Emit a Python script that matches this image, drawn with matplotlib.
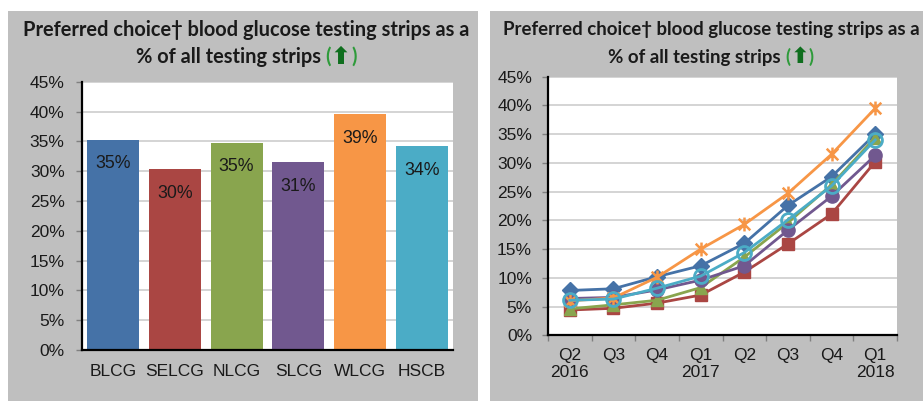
import matplotlib
matplotlib.use("Agg")
import matplotlib.pyplot as plt
from matplotlib.patches import Rectangle
from matplotlib.path import Path
from matplotlib.ticker import FixedLocator, FuncFormatter
import numpy as np

# ---------------- data ----------------
regions = ["BLCG", "SELCG", "NLCG", "SLCG", "WLCG", "HSCB"]
latest_share = [35.3, 30.4, 34.8, 31.5, 39.5, 34.2]
bar_labels = ["35%", "30%", "35%", "31%", "39%", "34%"]

quarters = ["Q2\n2016", "Q3", "Q4", "Q1\n2017", "Q2", "Q3", "Q4", "Q1\n2018"]
blcg = [7.8, 8.1, 10.2, 12.1, 16.0, 22.6, 27.6, 35.0]
selcg = [4.4, 4.7, 5.6, 7.0, 11.0, 15.9, 21.1, 30.2]
nlcg = [4.6, 5.3, 6.1, 8.3, 13.6, 19.6, 26.2, 34.4]
slcg = [6.4, 6.6, 7.9, 9.6, 12.1, 18.3, 24.2, 31.3]
wlcg = [6.0, 6.5, 10.1, 15.0, 19.3, 24.7, 31.5, 39.5]
hscb = [6.1, 6.3, 8.2, 10.3, 14.4, 20.1, 26.0, 34.0]

colors = ["#4572A7", "#AA4643", "#89A54E", "#71588F", "#F79646", "#4BACC6"]

W, H = 923, 403
fig = plt.figure(figsize=(W / 100, H / 100), dpi=100)
fig.patch.set_facecolor("white")

def px_rect(x0, y0, x1, y1):
    return [x0 / W, 1 - y1 / H, (x1 - x0) / W, (y1 - y0) / H]

# gray panels
for (x0, y0, x1, y1) in [(8, 11, 478, 401), (490, 11, 930, 401)]:
    fig.patches.append(Rectangle((x0 / W, 1 - y1 / H), (x1 - x0) / W, (y1 - y0) / H,
                                 transform=fig.transFigure, facecolor="#BFBFBF",
                                 edgecolor="none", zorder=-5))

TICKFONT = "Liberation Sans"
TXT = "#1a1a1a"
pct = FuncFormatter(lambda v, p: f"{v:.0f}%")

def style_axes(ax, pad_y):
    ax.set_zorder(2)
    ax.set_facecolor("white")
    ax.set_ylim(0, 45)
    ax.yaxis.set_major_locator(FixedLocator(np.arange(0, 46, 5)))
    ax.yaxis.set_major_formatter(pct)
    ax.grid(axis="y", color="#D4D4D4", linewidth=1.4, zorder=0)
    ax.set_axisbelow(True)
    for s in ["top", "right"]:
        ax.spines[s].set_visible(False)
    for s in ["left", "bottom"]:
        ax.spines[s].set_color("black")
        ax.spines[s].set_linewidth(1.6)
    ax.tick_params(axis="y", length=4.5, width=1, color="#808080", pad=pad_y,
                   labelsize=12.5, labelcolor=TXT)
    for lab in ax.get_yticklabels():
        lab.set_fontfamily(TICKFONT)

# ---------------- left: bars ----------------
ax1 = fig.add_axes(px_rect(82, 81.7, 453, 350))
style_axes(ax1, 8)
x = np.arange(len(regions))
bars = ax1.bar(x, latest_share, width=0.84, color=colors, zorder=2)
ax1.set_xlim(-0.5, len(regions) - 0.5)
ax1.set_xticks(x)
ax1.set_xticklabels(regions, fontfamily=TICKFONT, fontsize=12.5, color=TXT)
ax1.tick_params(axis="x", length=0, pad=10)
for b, lab in zip(bars, bar_labels):
    ax1.annotate(lab, (b.get_x() + b.get_width() / 2, b.get_height()),
                 xytext=(0, -17.5), textcoords="offset points",
                 ha="center", va="center", fontsize=12.8,
                 fontfamily=TICKFONT, color=TXT, zorder=3)

# ---------------- right: lines ----------------
ax2 = fig.add_axes(px_rect(548, 76.7, 897, 335.3))
style_axes(ax2, 7)
xq = np.arange(len(quarters))
series = [blcg, selcg, nlcg, slcg, wlcg, hscb]

# Excel-style star marker: an "x" plus a vertical stroke
star = Path([(-1, -1), (1, 1), (-1, 1), (1, -1), (0, -1.2), (0, 1.2)],
            [Path.MOVETO, Path.LINETO, Path.MOVETO, Path.LINETO, Path.MOVETO, Path.LINETO])

markers = ["D", "s", "^", "o", star, "o"]
msizes = [8, 8.5, 9, 9.5, 10, 10]
for i, (vals, m, ms) in enumerate(zip(series, markers, msizes)):
    if i == 5:
        ax2.plot(xq, vals, color=colors[i], linewidth=2, marker=m, markersize=ms,
                 markerfacecolor="none", markeredgecolor=colors[i],
                 markeredgewidth=2, zorder=3 + i)
    elif i == 4:
        ax2.plot(xq, vals, color=colors[i], linewidth=2, marker=m, markersize=ms,
                 markeredgecolor=colors[i], markeredgewidth=1.8, zorder=3 + i)
    else:
        ax2.plot(xq, vals, color=colors[i], linewidth=2, marker=m, markersize=ms,
                 markeredgecolor=colors[i], zorder=3 + i)
ax2.set_xlim(-0.5, len(quarters) - 0.5)
ax2.set_xticks(xq)
ax2.set_xticklabels(quarters, fontfamily=TICKFONT, fontsize=12.5, color=TXT,
                    linespacing=1.15)
ax2.tick_params(axis="x", which="major", length=0, pad=9)
ax2.set_xticks(np.arange(-0.5, len(quarters), 1), minor=True)
ax2.tick_params(axis="x", which="minor", length=4.5, width=1, color="#808080")

# ---------------- titles ----------------
TFONT = ["Lato", "DejaVu Sans"]
ARROW = "\u2B06"
renderer = fig.canvas.get_renderer()

def text_w(s, size, family=TFONT):
    t = fig.text(0, 0, s, fontsize=size, fontweight="bold", fontfamily=family)
    w = t.get_window_extent(renderer).width
    t.remove()
    return w

def title(cx, size):
    fig.text(cx / W, 1 - 30 / H, "Preferred choice† blood glucose testing strips as a",
             ha="center", va="center", fontsize=size, fontweight="bold",
             fontfamily=TFONT, color="#1a1a1a")
    base = "% of all testing strips"
    asize = size * 1.2
    w_base = text_w(base, size)
    w_sp = text_w(base + " (", size) - text_w("(", size) - w_base
    w_po = text_w("(", size)
    w_ar = text_w(ARROW, asize, ["DejaVu Sans"])
    w_pc = text_w(")", size)
    total = w_base + w_sp + w_po + w_ar + w_pc
    x0 = cx - total / 2
    y = 1 - 57 / H
    fig.text(x0 / W, y, base, ha="left", va="center", fontsize=size,
             fontweight="bold", fontfamily=TFONT, color="#1a1a1a")
    xp = x0 + w_base + w_sp
    fig.text(xp / W, y, "(", ha="left", va="center", fontsize=size,
             fontweight="bold", fontfamily=TFONT, color="#2E9B3A")
    xa = xp + w_po
    fig.text(xa / W, y, ARROW, ha="left", va="center", fontsize=asize,
             fontweight="bold", fontfamily=["DejaVu Sans"], color="#0F6E1E")
    xc = xa + w_ar
    fig.text(xc / W, y, ")", ha="left", va="center", fontsize=size,
             fontweight="bold", fontfamily=TFONT, color="#2E9B3A")

title(246, 14.4)
title(711, 13.4)

fig.savefig("out.png", dpi=100)
